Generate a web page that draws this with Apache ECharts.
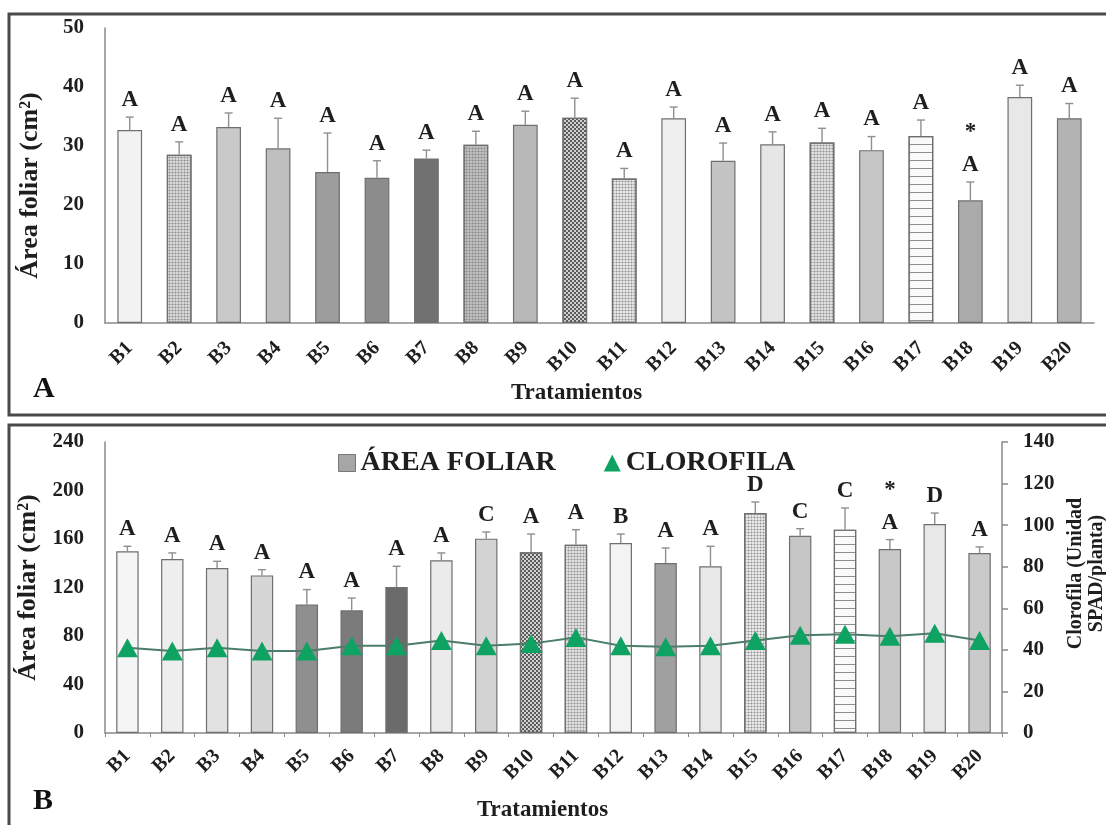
<!DOCTYPE html>
<html>
<head>
<meta charset="utf-8">
<script src="https://cdn.jsdelivr.net/npm/echarts@6/dist/echarts.min.js"></script>
<style>
html,body{margin:0;padding:0;background:#fff;}
#c{width:1106px;height:825px;}
</style>
</head>
<body>
<div id="c"></div>
<script>
// ---------- data ----------
const categories = ['B1','B2','B3','B4','B5','B6','B7','B8','B9','B10','B11','B12','B13','B14','B15','B16','B17','B18','B19','B20'];

// Panel A: leaf area (cm2), mean and upper error
const areaA = [32.7, 28.5, 33.2, 29.6, 25.6, 24.6, 27.9, 30.2, 33.6, 34.8, 24.5, 34.7, 27.5, 30.3, 30.6, 29.3, 31.7, 20.8, 38.3, 34.7];
const errA  = [2.2, 2.2, 2.4, 5.1, 6.6, 2.9, 1.4, 2.3, 2.3, 3.3, 1.7, 1.9, 3.0, 2.1, 2.4, 2.3, 2.7, 3.1, 2.0, 2.5];
const lettersA = ['A','A','A','A','A','A','A','A','A','A','A','A','A','A','A','A','A','*|A','A','A'];
const ticksA = [0, 10, 20, 30, 40, 50];

// Panel B: leaf area (cm2) and chlorophyll (SPAD units / plant)
const areaB = [149.8, 143.5, 136.0, 130.0, 105.9, 101.2, 120.4, 142.4, 160.3, 149.0, 155.3, 156.7, 140.2, 137.5, 181.4, 162.7, 167.7, 151.8, 172.4, 148.5];
const errB  = [4.2, 5.0, 5.6, 4.7, 12.4, 10.1, 17.1, 6.1, 5.5, 15.1, 12.4, 7.4, 12.4, 16.5, 9.1, 5.8, 17.9, 7.7, 9.0, 5.0];
const lettersB = ['A','A','A','A','A','A','A','A','C','A','A','B','A','A','D','C','C','*|A','D','A'];
const chloroB = [41.0, 39.5, 41.0, 39.5, 39.5, 42.0, 42.0, 44.5, 42.0, 43.0, 46.0, 42.0, 41.5, 42.0, 44.5, 47.0, 47.5, 46.5, 48.0, 44.5];
const ticksBLeft = [0, 40, 80, 120, 160, 200, 240];
const ticksBRight = [0, 20, 40, 60, 80, 100, 120, 140];

// ---------- styles ----------
const SERIF = '"Liberation Serif", "DejaVu Serif", serif';
const dots = {symbol:'circle', symbolSize:0.7, dashArrayX:[3,0], dashArrayY:[3,0], color:'rgba(120,120,120,0.8)'};
const checker = {symbol:'rect', symbolSize:1, dashArrayX:[[2,2],[0,2,2,0]], dashArrayY:[2,0], color:'rgba(70,70,70,0.85)'};
const hlines = {symbol:'rect', symbolSize:1, dashArrayX:[1,0], dashArrayY:[1,7], color:'rgba(130,130,130,0.9)'};
const fillA = ['#f2f2f2','#dedede','#c9c9c9','#bfbfbf','#9d9d9d','#8c8c8c','#717171','#c4c4c4','#b8b8b8','#d2d2d2','#ededed','#efefef','#c4c4c4','#e6e6e6','#e8e8e8','#c6c6c6','#fafafa','#aaaaaa','#e8e8e8','#b3b3b3'];
const decalA = [null, dots, null, null, null, null, null, dots, null, checker, dots, null, null, null, dots, null, hlines, null, null, null];
const fillB = ['#f5f5f5','#eeeeee','#e2e2e2','#d6d6d6','#8f8f8f','#7b7b7b','#6b6b6b','#ebebeb','#d3d3d3','#d2d2d2','#e8e8e8','#f3f3f3','#a0a0a0','#e8e8e8','#f0f0f0','#c6c6c6','#fafafa','#c8c8c8','#e8e8e8','#cacaca'];
const decalB = [null, null, null, null, null, null, null, null, null, checker, dots, null, null, null, dots, null, hlines, null, null, null];

function barData(vals, fills, decals){
  return vals.map((v,i)=>({value:v, itemStyle:{color:fills[i], decal: decals[i] || undefined}}));
}
function errData(vals, errs){
  return vals.map((v,i)=>[i, v, v + errs[i]]);
}
function errRenderer(letters){
  return function(params, api){
    const i = api.value(0), mean = api.value(1), top = api.value(2);
    const p0 = api.coord([i, mean]);
    const p1 = api.coord([i, top]);
    const cap = 4;
    const st = {stroke:'#8f8f8f', lineWidth:1.4};
    const children = [
      {type:'line', shape:{x1:p0[0], y1:p0[1], x2:p1[0], y2:p1[1]}, style:st},
      {type:'line', shape:{x1:p1[0]-cap, y1:p1[1], x2:p1[0]+cap, y2:p1[1]}, style:st}
    ];
    const parts = letters[params.dataIndex].split('|').reverse();
    parts.forEach((t,k)=>{
      children.push({type:'text', style:{text:t, x:p1[0], y:p1[1]-17-k*33, align:'center', verticalAlign:'middle',
        font:'bold 23px ' + SERIF, fill:'#1e1e1e'}});
    });
    return {type:'group', children};
  };
}
const axisLineStyle = {lineStyle:{color:'#8a8a8a', width:1.5}};
const tickLabel = {fontFamily:SERIF, fontWeight:'bold', fontSize:21, color:'#1e1e1e'};
const catLabel = {rotate:45, interval:0, fontSize:20, fontFamily:SERIF, fontWeight:'bold', color:'#1e1e1e'};
const nameStyle = {fontFamily:SERIF, fontWeight:'bold', color:'#1e1e1e'};

const chart = echarts.init(document.getElementById('c'), null, {renderer:'canvas'});
chart.setOption({
  backgroundColor:'#ffffff',
  animation:false,
  graphic:[
    {type:'rect', shape:{x:9, y:14, width:1120, height:401}, style:{fill:'none', stroke:'#4a4a4a', lineWidth:3}},
    {type:'rect', shape:{x:9, y:425, width:1120, height:430}, style:{fill:'none', stroke:'#4a4a4a', lineWidth:3}},
    {type:'text', left:33, top:374, style:{text:'A', font:'bold 30px ' + SERIF, fill:'#111'}},
    {type:'text', left:33, top:786, style:{text:'B', font:'bold 30px ' + SERIF, fill:'#111'}}
  ],
  legend:{
    left:333, top:444, itemWidth:17, itemHeight:17, itemGap:48,
    textStyle:{fontFamily:SERIF, fontWeight:'bold', fontSize:28, color:'#1e1e1e'},
    data:[{name:'ÁREA FOLIAR', icon:'rect', itemStyle:{color:'#a6a6a6', borderColor:'#777', borderWidth:1}},
          {name:'CLOROFILA', icon:'triangle'}]
  },
  grid:[
    {left:105, right:12, top:28, height:295, outerBoundsMode:'none', containLabel:false},
    {left:105, right:104, top:442, height:291, outerBoundsMode:'none', containLabel:false}
  ],
  xAxis:[
    {type:'category', gridIndex:0, data:categories, axisLine:axisLineStyle, axisTick:{show:false},
     axisLabel:Object.assign({margin:22}, catLabel),
     name:'Tratamientos', nameLocation:'middle', nameGap:59,
     nameTextStyle:Object.assign({fontSize:23, padding:[0,46,0,0]}, nameStyle)},
    {type:'category', gridIndex:1, data:categories, axisLine:axisLineStyle,
     axisTick:{show:true, length:4, lineStyle:{color:'#8a8a8a'}},
     axisLabel:Object.assign({margin:20}, catLabel),
     name:'Tratamientos', nameLocation:'middle', nameGap:66,
     nameTextStyle:Object.assign({fontSize:23, padding:[0,22,0,0]}, nameStyle)}
  ],
  yAxis:[
    {type:'value', gridIndex:0, min:ticksA[0], max:ticksA[ticksA.length-1], interval:ticksA[1]-ticksA[0],
     axisLine:Object.assign({show:true}, axisLineStyle), axisTick:{show:false}, splitLine:{show:false},
     axisLabel:Object.assign({margin:21}, tickLabel),
     name:'Área foliar (cm²)', nameLocation:'middle', nameRotate:90, nameGap:62,
     nameTextStyle:Object.assign({fontSize:26, padding:[0,20,0,0]}, nameStyle)},
    {type:'value', gridIndex:1, min:ticksBLeft[0], max:ticksBLeft[ticksBLeft.length-1], interval:ticksBLeft[1]-ticksBLeft[0],
     axisLine:Object.assign({show:true}, axisLineStyle), axisTick:{show:false}, splitLine:{show:false},
     axisLabel:Object.assign({margin:21}, tickLabel),
     name:'Área foliar (cm²)', nameLocation:'middle', nameRotate:90, nameGap:62,
     nameTextStyle:Object.assign({fontSize:26}, nameStyle)},
    {type:'value', gridIndex:1, position:'right', min:ticksBRight[0], max:ticksBRight[ticksBRight.length-1], interval:ticksBRight[1]-ticksBRight[0],
     axisLine:Object.assign({show:true}, axisLineStyle), axisTick:{show:true, inside:false, length:6, lineStyle:{color:'#8a8a8a', width:1.5}},
     splitLine:{show:false}, axisLabel:Object.assign({margin:21}, tickLabel),
     name:'Clorofila (Unidad\nSPAD/planta)', nameLocation:'middle', nameRotate:90, nameGap:62,
     nameTextStyle:Object.assign({fontSize:20, lineHeight:21, padding:[0,0,0,28]}, nameStyle)}
  ],
  series:[
    {name:'Área foliar A', type:'bar', xAxisIndex:0, yAxisIndex:0, barWidth:'50%',
     itemStyle:{borderColor:'#6f6f6f', borderWidth:1.2}, data:barData(areaA, fillA, decalA), z:2},
    {name:'errA', type:'custom', xAxisIndex:0, yAxisIndex:0, renderItem:errRenderer(lettersA), data:errData(areaA, errA), z:5},
    {name:'ÁREA FOLIAR', type:'bar', xAxisIndex:1, yAxisIndex:1, barWidth:'50%',
     itemStyle:{color:'#a6a6a6', borderColor:'#6f6f6f', borderWidth:1.2}, data:barData(areaB, fillB, decalB), z:2},
    {name:'errB', type:'custom', xAxisIndex:1, yAxisIndex:1, renderItem:errRenderer(lettersB), data:errData(areaB, errB), z:5},
    {name:'CLOROFILA', type:'line', xAxisIndex:1, yAxisIndex:2, data:chloroB, symbol:'triangle', symbolSize:[21,19],
     itemStyle:{color:'#0fa363'}, lineStyle:{color:'#4b7d69', width:2}, z:6}
  ]
});
</script>
</body>
</html>
